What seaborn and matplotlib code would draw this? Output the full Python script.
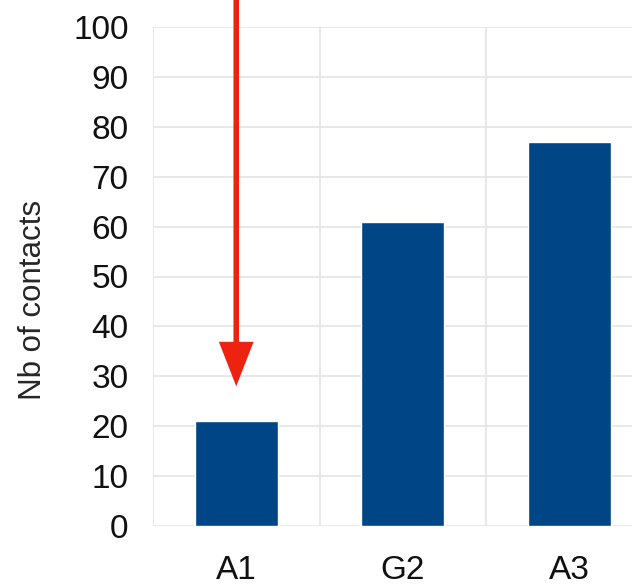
import seaborn as sns
import matplotlib.pyplot as plt
import numpy as np

# Data
categories = ["A1", "G2", "A3"]
contacts = [21, 61, 77]
arrow_target = "A1"
arrow_tip = 28

BAR_COLOR = "#004586"
ARROW_COLOR = "#ee2211"
GRID_COLOR = "#e4e4e4"

sns.set_style("white")
plt.rcParams['font.family'] = ['Liberation Sans', 'DejaVu Sans']

fig = plt.figure(figsize=(6.32, 5.85), dpi=100)
# axes runs past the right edge of the figure, like the cropped reference
ax = fig.add_axes([153 / 632, 59 / 585, 499.5 / 632, 499 / 585])

sns.barplot(x=categories, y=contacts, color=BAR_COLOR, saturation=1,
            width=0.5, ax=ax, zorder=3)

# y axis
ax.set_ylim(0, 100)
ax.set_yticks(np.arange(0, 101, 10))
ax.set_ylabel("Nb of contacts", fontsize=22.5)
ax.yaxis.set_label_coords(-0.21, 0.453)

# x axis: grid/ticks on category boundaries, labels at centres
ax.set_xlim(-0.5, len(categories) - 0.5)
ax.set_xticks(np.arange(-0.5, len(categories), 1.0))
ax.set_xticklabels([])
ax.set_xticks(range(len(categories)), minor=True)
ax.set_xticklabels(categories, minor=True)
ax.set_xlabel("")

ax.grid(True, which="major", color=GRID_COLOR, linewidth=1.2, zorder=0)
ax.set_axisbelow(True)
for side in ["top", "right", "bottom", "left"]:
    ax.spines[side].set_visible(False)

ax.tick_params(axis="y", which="major", length=9.5, width=1.0,
               color=GRID_COLOR, labelsize=24, pad=8, labelcolor="#111111")
ax.tick_params(axis="x", which="major", length=9, width=1.0,
               color=GRID_COLOR)
ax.tick_params(axis="x", which="minor", length=0, labelsize=24, pad=21,
               labelcolor="#111111")

# red arrow pointing down at the A1 bar
x_arrow = categories.index(arrow_target)
ax.annotate("", xy=(x_arrow, arrow_tip), xytext=(x_arrow, 112),
            xycoords="data", annotation_clip=False,
            arrowprops=dict(width=4, headwidth=25, headlength=32,
                            facecolor=ARROW_COLOR, edgecolor="none",
                            shrink=0))

fig.savefig("out.png", dpi=100)
